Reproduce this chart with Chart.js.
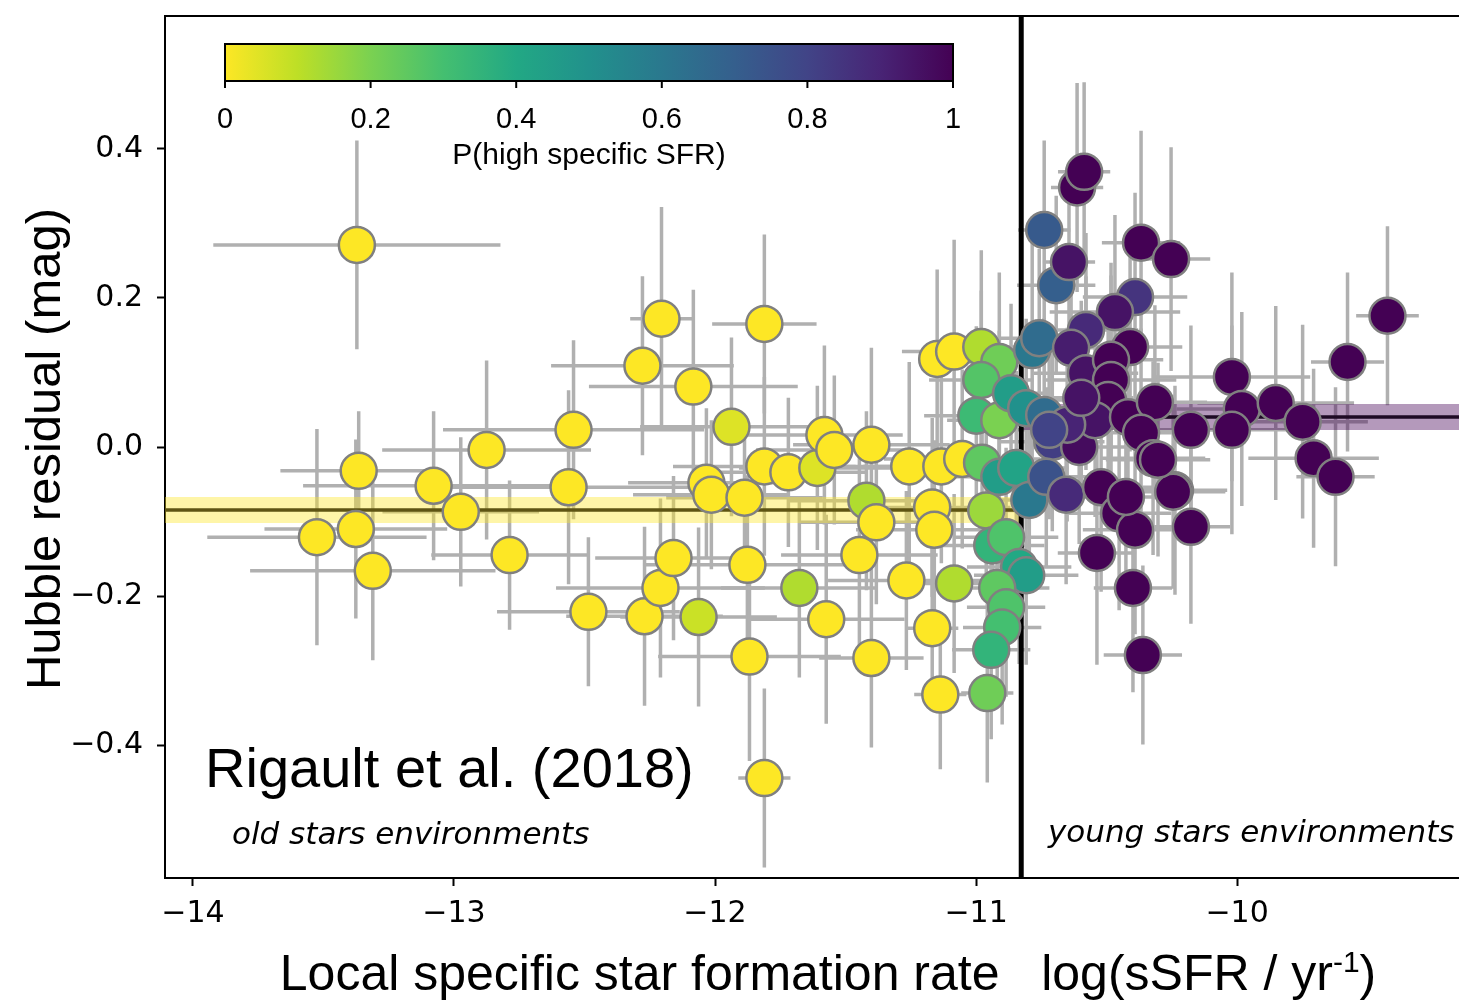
<!DOCTYPE html>
<html>
<head>
<meta charset="utf-8">
<script src="https://cdn.jsdelivr.net/npm/chart.js@4.4.0/dist/chart.umd.min.js"></script>
<style>
  html, body { margin: 0; padding: 0; background: #fff; }
</style>
</head>
<body>
<canvas id="canvas-rigault" width="1459" height="1000"></canvas>
<script>
// local sSFR (log, yr^-1) of each SN host environment
var sfr = [
  -13.372, -13.365, -13.525, -13.376, -13.311, -13.078, -12.974, -12.875, -12.787, -12.561,
  -12.542, -12.485, -12.278, -12.205, -12.083, -12.270, -12.209, -12.159, -12.063, -12.033,
  -12.014, -11.937, -11.887, -11.876, -11.868, -11.811, -11.811, -11.811, -11.719, -11.677,
  -11.608, -11.581, -11.574, -11.543, -11.447, -11.420, -11.382, -11.401, -11.401, -11.267,
  -11.256, -11.168, -11.168, -11.160, -11.149, -11.137, -11.133, -11.084, -11.084, -11.053,
  -10.980, -10.911, -10.980, -10.999, -10.911, -10.866, -10.808, -10.785, -10.758, -10.739,
  -10.977, -10.911, -10.846, -10.796, -10.708, -10.731, -10.655, -10.605, -10.961, -10.938,
  -10.885, -10.835, -10.808, -10.919, -10.885, -10.900, -10.942, -10.957,
  -10.739, -10.693, -10.644, -10.613, -10.586, -10.368, -10.253, -10.391, -10.468, -10.579,
  -10.636, -10.410, -10.579, -10.483, -10.483, -10.494, -10.544, -10.418, -10.315, -10.368,
  -10.322, -10.238, -10.177, -10.177, -10.521, -10.452, -10.391, -10.537, -10.399, -10.361,
  -10.020, -9.982, -9.852, -9.749, -10.020, -9.707, -9.623, -9.577, -9.424, -10.245,
  -10.303, -10.426, -10.651, -10.720, -10.597
];
// Hubble residuals (mag)
var resid = [
  0.271, -0.032, -0.121, -0.110, -0.166, -0.052, -0.087, -0.004, -0.145, -0.054,
  0.023, -0.221, 0.109, 0.172, 0.081, -0.227, -0.189, -0.149, -0.228, -0.048,
  -0.064, 0.027, -0.068, -0.158, -0.281, 0.165, -0.444, -0.026, -0.034, -0.189,
  -0.028, 0.016, -0.231, -0.004, -0.145, -0.072, -0.101, 0.003, -0.283, -0.179,
  -0.026, -0.243, -0.081, -0.111, 0.118, -0.332, -0.026, 0.128, -0.183, -0.016,
  0.134, 0.114, 0.090, 0.042, 0.036, 0.072, 0.052, 0.130, 0.146, 0.043,
  -0.021, -0.040, -0.028, -0.071, 0.007, -0.040, -0.064, 0.000, -0.085, -0.132,
  -0.121, -0.161, -0.172, -0.189, -0.215, -0.242, -0.272, -0.330,
  0.291, 0.217, 0.248, 0.348, 0.369, 0.274, 0.252, 0.201, 0.181, 0.157,
  0.133, 0.134, 0.099, 0.117, 0.090, 0.063, 0.036, 0.040, 0.060, 0.019,
  -0.015, -0.058, 0.023, -0.107, -0.054, -0.089, -0.111, -0.142, -0.189, -0.279,
  0.094, 0.051, 0.059, 0.034, 0.023, -0.015, -0.040, 0.114, 0.176, -0.060,
  -0.017, -0.067, 0.030, 0.023, 0.066
];
var sfrErr = [
  0.55, 0.30, 0.42, 0.35, 0.47, 0.50, 0.30, 0.40, 0.30, 0.50,
  0.50, 0.35, 0.35, 0.12, 0.40, 0.30, 0.40, 0.30, 0.30, 0.30,
  0.30, 0.35, 0.30, 0.40, 0.35, 0.20, 0.10, 0.35, 0.30, 0.30,
  0.30, 0.30, 0.30, 0.30, 0.30, 0.30, 0.30, 0.30, 0.20, 0.30,
  0.35, 0.10, 0.30, 0.30, 0.05, 0.10, 0.30, 0.20, 0.20, 0.30,
  0.15, 0.15, 0.20, 0.20, 0.20, 0.15, 0.15, 0.20, 0.15, 0.20,
  0.20, 0.20, 0.20, 0.20, 0.20, 0.20, 0.20, 0.20, 0.20, 0.20,
  0.20, 0.20, 0.20, 0.20, 0.15, 0.15, 0.15, 0.10,
  0.10, 0.15, 0.10, 0.10, 0.10, 0.15, 0.15, 0.20, 0.25, 0.20,
  0.20, 0.20, 0.20, 0.20, 0.25, 0.25, 0.20, 0.20, 0.20, 0.20,
  0.20, 0.20, 0.20, 0.15, 0.20, 0.20, 0.20, 0.15, 0.15, 0.15,
  0.30, 0.25, 0.30, 0.25, 0.25, 0.25, 0.15, 0.14, 0.12, 0.20,
  0.20, 0.20, 0.20, 0.20, 0.20
];
var residErr = [
  0.14, 0.08, 0.145, 0.12, 0.12, 0.10, 0.10, 0.12, 0.10, 0.13,
  0.12, 0.10, 0.12, 0.15, 0.13, 0.12, 0.12, 0.11, 0.12, 0.10,
  0.10, 0.12, 0.10, 0.12, 0.14, 0.12, 0.12, 0.12, 0.10, 0.12,
  0.11, 0.12, 0.14, 0.10, 0.13, 0.12, 0.11, 0.13, 0.12, 0.12,
  0.14, 0.11, 0.12, 0.12, 0.12, 0.10, 0.13, 0.15, 0.12, 0.12,
  0.13, 0.12, 0.12, 0.12, 0.12, 0.12, 0.12, 0.15, 0.12, 0.13,
  0.12, 0.12, 0.13, 0.12, 0.12, 0.12, 0.12, 0.13, 0.12, 0.12,
  0.12, 0.13, 0.12, 0.12, 0.12, 0.13, 0.12, 0.12,
  0.12, 0.12, 0.13, 0.14, 0.12, 0.15, 0.15, 0.14, 0.13, 0.13,
  0.13, 0.14, 0.13, 0.13, 0.14, 0.13, 0.13, 0.14, 0.13, 0.14,
  0.13, 0.14, 0.14, 0.13, 0.14, 0.13, 0.14, 0.15, 0.14, 0.12,
  0.14, 0.13, 0.13, 0.13, 0.14, 0.12, 0.12, 0.12, 0.12, 0.13,
  0.13, 0.13, 0.13, 0.12, 0.13
];
// P(high specific SFR) -> marker colour
var pHigh = [
  0, 0, 0, 0, 0, 0, 0, 0, 0, 0,
  0, 0, 0, 0, 0, 0, 0, 0, 0.08, 0,
  0, 0.05, 0, 0, 0, 0, 0, 0, 0, 0.12,
  0.05, 0, 0, 0, 0, 0.12, 0, 0, 0, 0,
  0, 0, 0, 0, 0, 0, 0, 0, 0.12, 0,
  0.12, 0.22, 0.27, 0.32, 0.20, 0.45, 0.50, 0.60, 0.65, 0.65,
  0.25, 0.45, 0.42, 0.60, 0.82, 0.75, 0.88, 0.97, 0.15, 0.35,
  0.28, 0.40, 0.45, 0.25, 0.28, 0.30, 0.35, 0.22,
  0.72, 0.70, 0.95, 1, 1, 1, 1, 0.85, 0.95, 0.88,
  0.92, 1, 0.95, 1, 1, 1, 0.95, 1, 1, 1,
  1, 1, 1, 1, 1, 1, 1, 1, 1, 1,
  1, 1, 1, 1, 1, 1, 1, 1, 1, 1,
  1, 1, 0.90, 0.80, 0.95
];

var xTicks = [-14, -13, -12, -11, -10];
var yTicks = [-0.4, -0.2, 0.0, 0.2, 0.4];
var cbTicks = [0, 0.2, 0.4, 0.6, 0.8, 1];
var cbTickLabels = ['0', '0.2', '0.4', '0.6', '0.8', '1'];

// step fit
var stepX = -10.827;
var oldStep = -0.0845;
var youngStep = 0.0403;
var stepErr = 0.0175;

var xMin = -14.107, xMax = -9.15, yMin = -0.578, yMax = 0.578;

var viridis = ['#440154', '#482475', '#414487', '#355f8d', '#2a788e', '#21918c',
  '#22a884', '#44bf70', '#7ad151', '#bddf26', '#fde725'];

function hexRgb(h) {
  return [parseInt(h.substr(1, 2), 16), parseInt(h.substr(3, 2), 16), parseInt(h.substr(5, 2), 16)];
}
// reversed viridis: 0 = yellow, 1 = purple
function colourFor(p) {
  var t = (1 - p) * 10;
  var i = Math.min(9, Math.floor(t));
  var f = t - i;
  var a = hexRgb(viridis[i]), b = hexRgb(viridis[i + 1]);
  return 'rgb(' + Math.round(a[0] + (b[0] - a[0]) * f) + ',' +
    Math.round(a[1] + (b[1] - a[1]) * f) + ',' + Math.round(a[2] + (b[2] - a[2]) * f) + ')';
}

var points = sfr.map(function (v, i) { return {x: v, y: resid[i]}; });
var colours = pHigh.map(colourFor);

function minus(s) { return String(s).replace('-', '\u2212'); }

const errorBars = {
  id: 'errorBars',
  beforeDatasetsDraw: function (chart) {
    const ctx = chart.ctx, xs = chart.scales.x, ys = chart.scales.y, a = chart.chartArea;
    ctx.save();
    ctx.beginPath();
    ctx.rect(a.left, a.top, a.right - a.left, a.bottom - a.top);
    ctx.clip();
    ctx.strokeStyle = '#b0b0b0';
    ctx.lineWidth = 3.5;
    for (let i = 0; i < sfr.length; i++) {
      const px = xs.getPixelForValue(sfr[i]);
      const py = ys.getPixelForValue(resid[i]);
      ctx.beginPath();
      ctx.moveTo(xs.getPixelForValue(sfr[i] - sfrErr[i]), py);
      ctx.lineTo(xs.getPixelForValue(sfr[i] + sfrErr[i]), py);
      ctx.moveTo(px, ys.getPixelForValue(resid[i] - residErr[i]));
      ctx.lineTo(px, ys.getPixelForValue(resid[i] + residErr[i]));
      ctx.stroke();
    }
    ctx.restore();
  }
};

const decorations = {
  id: 'decorations',
  afterDraw: function (chart) {
    const ctx = chart.ctx, a = chart.chartArea;
    ctx.save();
    // top frame line
    ctx.strokeStyle = '#000';
    ctx.lineWidth = 2;
    ctx.beginPath();
    ctx.moveTo(a.left - 1, a.top);
    ctx.lineTo(chart.width, a.top);
    ctx.stroke();

    // colour bar
    const cbL = 225, cbR = 953, cbT = 44, cbB = 81;
    const grad = ctx.createLinearGradient(cbL, 0, cbR, 0);
    for (let k = 0; k <= 10; k++) grad.addColorStop(k / 10, colourFor(k / 10));
    ctx.fillStyle = grad;
    ctx.fillRect(cbL, cbT, cbR - cbL, cbB - cbT);
    ctx.strokeRect(cbL, cbT, cbR - cbL, cbB - cbT);
    ctx.fillStyle = '#000';
    ctx.font = '29px "Liberation Sans"';
    ctx.textAlign = 'center';
    ctx.textBaseline = 'alphabetic';
    cbTicks.forEach(function (t, i) {
      const x = cbL + t * (cbR - cbL);
      ctx.beginPath();
      ctx.moveTo(x, cbB);
      ctx.lineTo(x, cbB + 7);
      ctx.stroke();
      ctx.fillText(cbTickLabels[i], x, 128);
    });
    ctx.font = '30px "Liberation Sans"';
    ctx.fillText('P(high specific SFR)', (cbL + cbR) / 2, 164);

    // annotations
    ctx.textAlign = 'left';
    ctx.font = '56px "Liberation Sans"';
    ctx.fillText('Rigault et al. (2018)', 205, 787);
    ctx.font = 'italic 31px "DejaVu Sans"';
    ctx.fillText('old stars environments', 232, 844);
    ctx.fillText('young stars environments', 1048, 842);

    // axis titles
    ctx.font = '50px "Liberation Sans"';
    const main = 'Local specific star formation rate   log(sSFR / yr';
    const wMain = ctx.measureText(main).width;
    const wTail = ctx.measureText(')').width;
    ctx.font = '30px "Liberation Sans"';
    const wSup = ctx.measureText('-1').width;
    let x0 = 828 - (wMain + wSup + wTail) / 2;
    ctx.font = '50px "Liberation Sans"';
    ctx.fillText(main, x0, 990);
    ctx.font = '30px "Liberation Sans"';
    ctx.fillText('-1', x0 + wMain, 972);
    ctx.font = '50px "Liberation Sans"';
    ctx.fillText(')', x0 + wMain + wSup, 990);

    ctx.translate(60, 449);
    ctx.rotate(-Math.PI / 2);
    ctx.textAlign = 'center';
    ctx.font = '49px "Liberation Sans"';
    ctx.fillText('Hubble residual (mag)', 0, 0);
    ctx.restore();
  }
};

const ctx = document.getElementById('canvas-rigault');
new Chart(ctx, {
  type: 'scatter',
  data: {
    datasets: [{
      label: 'SNe Ia',
      data: points,
      pointRadius: 18,
      pointHoverRadius: 18,
      pointBackgroundColor: colours,
      pointBorderColor: '#808080',
      pointBorderWidth: 2.5,
      order: 0
    }, {
      type: 'line',
      data: [{x: stepX, y: yMin}, {x: stepX, y: yMax}],
      borderColor: '#000',
      borderWidth: 5,
      pointRadius: 0,
      order: 1
    }, {
      type: 'line',
      data: [{x: xMin, y: oldStep}, {x: stepX, y: oldStep}],
      borderColor: '#5e5413',
      borderWidth: 3.5,
      pointRadius: 0,
      order: 2
    }, {
      type: 'line',
      data: [{x: stepX, y: youngStep}, {x: xMax, y: youngStep}],
      borderColor: '#1e0a24',
      borderWidth: 3.5,
      pointRadius: 0,
      order: 2
    }, {
      type: 'line',
      data: [{x: xMin, y: oldStep + stepErr}, {x: stepX, y: oldStep + stepErr}],
      borderColor: 'rgba(0,0,0,0)',
      borderWidth: 0,
      pointRadius: 0,
      fill: {value: oldStep - stepErr},
      backgroundColor: 'rgba(253,231,37,0.4)',
      order: 3
    }, {
      type: 'line',
      data: [{x: stepX, y: youngStep + stepErr}, {x: xMax, y: youngStep + stepErr}],
      borderColor: 'rgba(0,0,0,0)',
      borderWidth: 0,
      pointRadius: 0,
      fill: {value: youngStep - stepErr},
      backgroundColor: 'rgba(68,1,84,0.4)',
      order: 3
    }]
  },
  options: {
    responsive: false,
    devicePixelRatio: 1,
    animation: false,
    layout: { autoPadding: false, padding: { top: 16, left: 0, right: 0, bottom: 0 } },
    plugins: {
      legend: { display: false },
      tooltip: { enabled: false }
    },
    scales: {
      x: {
        type: 'linear',
        min: xMin,
        max: xMax,
        afterBuildTicks: function (scale) {
          scale.ticks = xTicks.map(function (v) { return {value: v}; });
        },
        afterFit: function (scale) {
          scale.height = 122;
          scale.paddingLeft = 0;
          scale.paddingRight = 0;
        },
        ticks: {
          callback: function (v) { return minus(v); },
          font: { family: 'DejaVu Sans', size: 30 },
          color: '#000',
          padding: 10,
          maxRotation: 0
        },
        grid: { drawOnChartArea: false, tickLength: 8, tickWidth: 2, tickColor: '#000' },
        border: { color: '#000', width: 2 }
      },
      y: {
        min: yMin,
        max: yMax,
        afterBuildTicks: function (scale) {
          scale.ticks = yTicks.map(function (v) { return {value: v}; });
        },
        afterFit: function (scale) {
          scale.width = 165;
          scale.paddingTop = 0;
          scale.paddingBottom = 0;
        },
        ticks: {
          callback: function (v) { return minus(v.toFixed(1)); },
          font: { family: 'DejaVu Sans', size: 30 },
          color: '#000',
          padding: 14
        },
        grid: { drawOnChartArea: false, tickLength: 8, tickWidth: 2, tickColor: '#000' },
        border: { color: '#000', width: 2 }
      }
    }
  },
  plugins: [errorBars, decorations]
});
</script>
</body>
</html>
